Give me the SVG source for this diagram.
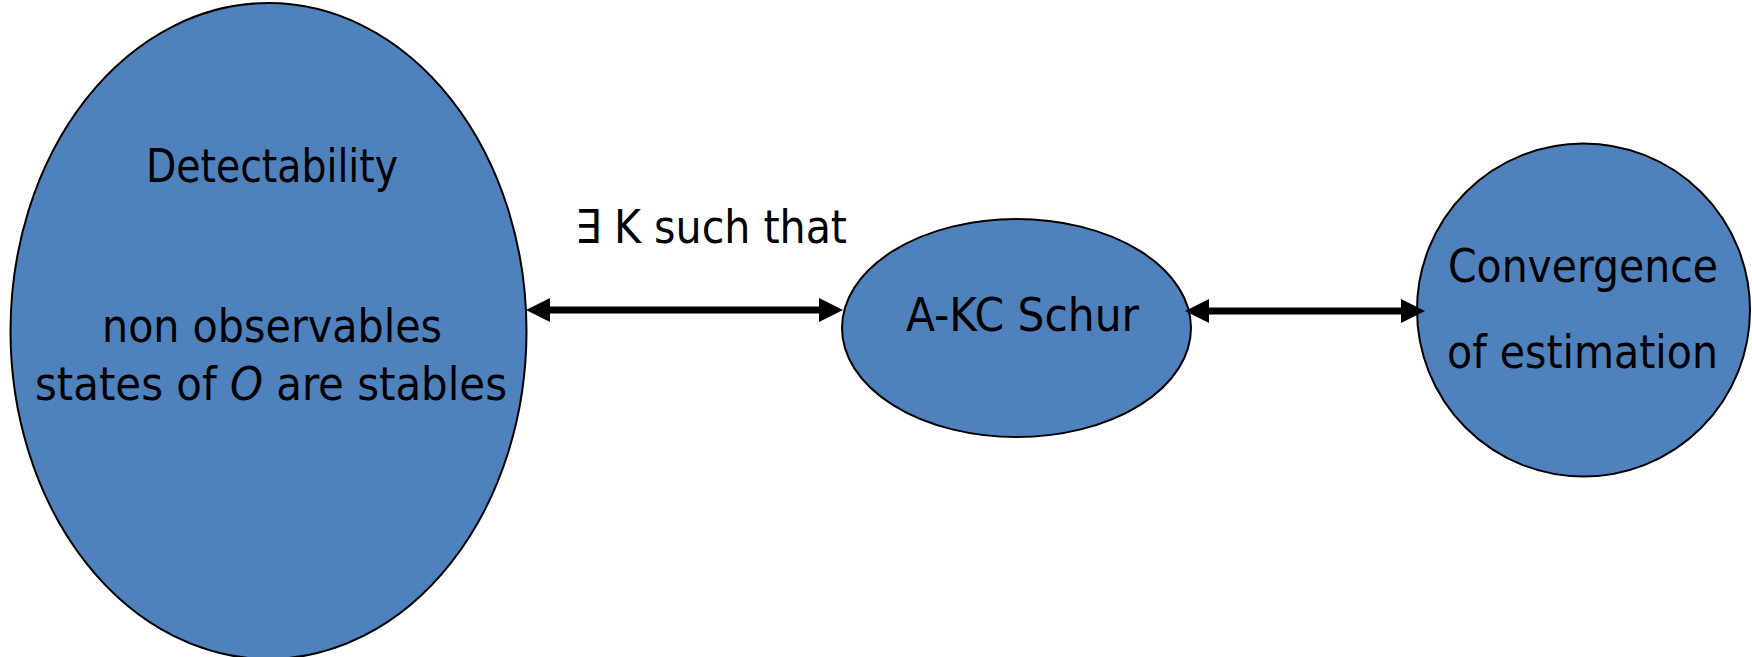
<svg xmlns="http://www.w3.org/2000/svg" width="1752" height="657" viewBox="0 0 1752 657">
  <style>
    .node { fill: #4F81BD; stroke: #000000; stroke-width: 2; }
    .lbl { font-family: "DejaVu Sans Condensed", "DejaVu Sans", sans-serif; font-size: 47px; fill: #000000; text-anchor: middle; }
    .conn { stroke: #000000; stroke-width: 7; fill: none; }
  </style>
  <defs>
    <marker id="ah" viewBox="0 0 24 24" refX="12" refY="12" markerWidth="24" markerHeight="24" markerUnits="userSpaceOnUse" orient="auto-start-reverse">
      <path d="M0,0 L24,12 L0,24 z" fill="#000000"/>
    </marker>
  </defs>
  <rect width="1752" height="657" fill="#FFFFFF"/>
  <g id="node-detectability">
    <ellipse class="node" cx="268.5" cy="331" rx="258" ry="328"/>
    <text class="lbl" x="272" y="182" textLength="252" lengthAdjust="spacingAndGlyphs">Detectability</text>
    <text class="lbl" x="272" y="342" textLength="340" lengthAdjust="spacingAndGlyphs">non observables</text>
    <text class="lbl" x="271" y="400" textLength="472" lengthAdjust="spacingAndGlyphs">states of <tspan font-style="italic">O</tspan> are stables</text>
  </g>
  <g id="node-schur">
    <ellipse class="node" cx="1016.5" cy="328" rx="174.5" ry="109"/>
    <text class="lbl" x="1022.5" y="331" textLength="233" lengthAdjust="spacingAndGlyphs">A-KC Schur</text>
  </g>
  <g id="node-convergence">
    <circle class="node" cx="1583.5" cy="310" r="166.5"/>
    <text class="lbl" x="1583" y="282" textLength="270" lengthAdjust="spacingAndGlyphs">Convergence</text>
    <text class="lbl" x="1582.5" y="368" textLength="271" lengthAdjust="spacingAndGlyphs">of estimation</text>
  </g>
  <g id="connectors">
    <line class="conn" x1="538" y1="310" x2="831" y2="310" marker-start="url(#ah)" marker-end="url(#ah)"/>
    <text class="lbl" x="711" y="243" textLength="272" lengthAdjust="spacingAndGlyphs">∃ K such that</text>
    <line class="conn" x1="1197" y1="311" x2="1413" y2="311" marker-start="url(#ah)" marker-end="url(#ah)"/>
  </g>
</svg>
